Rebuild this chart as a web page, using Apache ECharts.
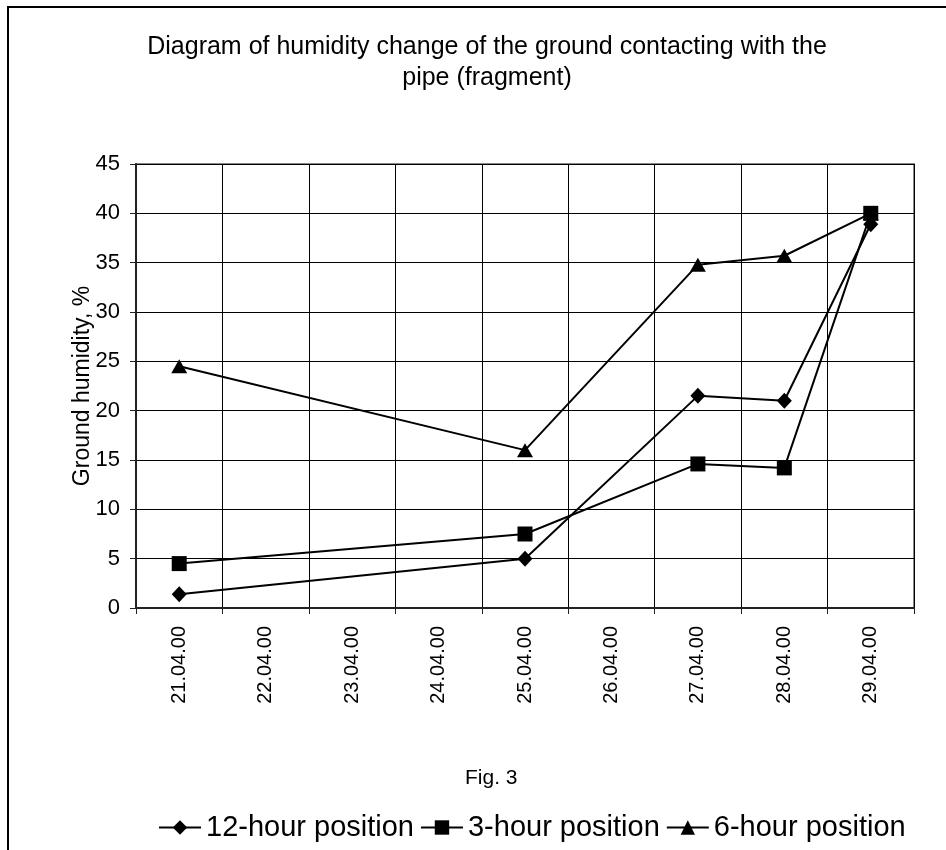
<!DOCTYPE html>
<html><head><meta charset="utf-8">
<script src="https://cdn.jsdelivr.net/npm/echarts@6/dist/echarts.min.js"></script>
<style>html,body{margin:0;padding:0;background:#fff}#c{width:946px;height:850px}</style>
</head><body><div id="c"></div>
<script>
const categories = ['21.04.00','22.04.00','23.04.00','24.04.00','25.04.00','26.04.00','27.04.00','28.04.00','29.04.00'];
const pos12 = [1.4, null, null, null, 5.0, null, 21.5, 21.0, 38.9];
const pos3  = [4.5, null, null, null, 7.5, null, 14.6, 14.2, 40.0];
const pos6  = [24.5, null, null, null, 16.0, null, 34.8, 35.7, 40.0];
const seriesNames = ['12-hour position','3-hour position','6-hour position'];
const yTicks = [0,5,10,15,20,25,30,35,40,45];

const FONT = 'Liberation Sans, Arial, sans-serif';
const chart = echarts.init(document.getElementById('c'), null, {renderer:'canvas'});
const common = {type:'line', connectNulls:true, lineStyle:{color:'#000', width:2}, itemStyle:{color:'#000'}, showSymbol:true, animation:false};
chart.setOption({
  backgroundColor:'#fff',
  animation:false,
  title:{text:'Diagram of humidity change of the ground contacting with the\npipe (fragment)', left:482, top:27, textAlign:'center',
    textStyle:{fontFamily:FONT, fontSize:25, fontWeight:'normal', color:'#000', lineHeight:31}},
  legend:{data:seriesNames, left:153, bottom:3, itemWidth:42, itemHeight:18, itemGap:6,
    textStyle:{fontFamily:FONT, fontSize:29, color:'#000'}},
  grid:{left:136, right:32, top:164, bottom:242, show:true, borderColor:'#888', borderWidth:2},
  xAxis:{type:'category', data:categories, boundaryGap:true,
    axisLine:{lineStyle:{color:'#222', width:2}},
    axisTick:{show:true, length:6, lineStyle:{color:'#222'}},
    axisLabel:{rotate:90, margin:18, fontFamily:FONT, fontSize:20, color:'#000', interval:0},
    splitLine:{show:true, lineStyle:{color:'#000', width:1}}},
  yAxis:{type:'value', min:0, max:45, interval:5,
    name:'Ground humidity, %', nameLocation:'middle', nameGap:42, nameRotate:90, nameMoveOverlap:false,
    nameTextStyle:{fontFamily:FONT, fontSize:23, color:'#000'},
    axisLine:{show:true, lineStyle:{color:'#222', width:2}},
    axisTick:{show:true, length:6, lineStyle:{color:'#222'}},
    axisLabel:{margin:16, fontFamily:FONT, fontSize:22, color:'#000',
      formatter:v => yTicks.includes(v) ? String(v) : ''},
    splitLine:{show:true, lineStyle:{color:'#000', width:1}}},
  graphic:[
    {type:'rect', shape:{x:8, y:7, width:980, height:900}, style:{fill:'none', stroke:'#000', lineWidth:2}, silent:true},
    {type:'text', left:465, top:768, style:{text:'Fig. 3', fontFamily:FONT, fontSize:21, fill:'#000'}}
  ],
  series:[
    Object.assign({}, common, {name:seriesNames[0], data:pos12, symbol:'diamond', symbolSize:[15,16], z:2}),
    Object.assign({}, common, {name:seriesNames[1], data:pos3, symbol:'rect', symbolSize:15, z:4}),
    Object.assign({}, common, {name:seriesNames[2], data:pos6, symbol:'triangle', symbolSize:[16,14], z:3})
  ]
});
</script></body></html>
